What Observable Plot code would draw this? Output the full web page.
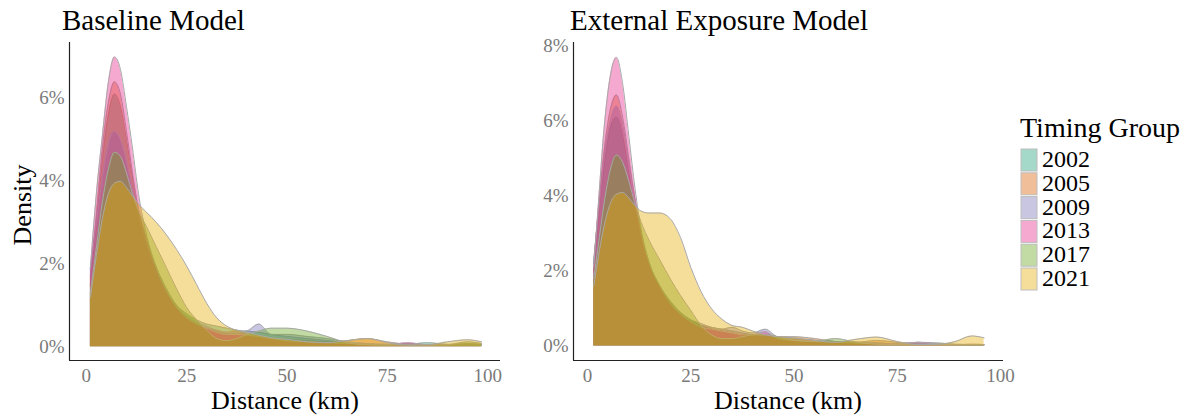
<!DOCTYPE html>
<html><head><meta charset="utf-8">
<script src="https://cdn.jsdelivr.net/npm/d3@7"></script>
<script src="https://cdn.jsdelivr.net/npm/@observablehq/plot@0.6"></script>
<style>
body{margin:0;background:#fff;font-family:"Liberation Serif",serif;}
#wrap{position:relative;width:1199px;height:418px;overflow:hidden;background:#fff}
#overlay{position:absolute;left:0;top:0;pointer-events:none}
</style></head><body><div id="wrap"></div>
<script>
const groups = ["2002","2005","2009","2013","2017","2021"];
const colors = ["#1B9E77","#D95F02","#7570B3","#E7298A","#66A61E","#E6AB02"];
const xTicks = [0,25,50,75,100];
const baselineYTicks = [0,2,4,6];
const externalYTicks = [0,2,4,6,8];

// Baseline Model: distance (km) grid and density (%) per timing group
const baselineX    = [1, 2.5, 4, 5.5, 7, 8.5, 10, 11.5, 13, 15, 17.5, 20, 22.5, 25, 27.5, 30, 32.5, 35, 37.5, 40, 43, 46, 50, 55, 60, 65, 70, 75, 80, 85, 90, 95, 98.5];
const baseline2002 = [1.5, 3.0, 4.5, 5.6, 6.1, 5.8, 5.0, 4.1, 3.3, 2.6, 1.9, 1.35, 1.0, 0.8, 0.65, 0.55, 0.5, 0.45, 0.4, 0.38, 0.35, 0.3, 0.25, 0.2, 0.15, 0.1, 0.06, 0.05, 0.06, 0.1, 0.06, 0.05, 0.04];
const baseline2005 = [1.7, 3.2, 4.8, 5.9, 6.4, 6.1, 5.2, 4.2, 3.3, 2.5, 1.8, 1.3, 0.95, 0.7, 0.55, 0.45, 0.4, 0.35, 0.4, 0.3, 0.25, 0.2, 0.18, 0.15, 0.12, 0.15, 0.2, 0.12, 0.06, 0.04, 0.05, 0.08, 0.06];
const baseline2009 = [1.9, 3.0, 4.1, 4.9, 5.2, 5.0, 4.5, 3.8, 3.2, 2.5, 1.9, 1.4, 1.0, 0.75, 0.6, 0.5, 0.4, 0.35, 0.35, 0.38, 0.55, 0.3, 0.3, 0.25, 0.2, 0.12, 0.08, 0.06, 0.08, 0.05, 0.05, 0.06, 0.05];
const baseline2013 = [1.9, 3.7, 5.1, 6.4, 7.0, 6.7, 5.8, 4.8, 3.7, 2.7, 1.9, 1.35, 0.95, 0.7, 0.55, 0.45, 0.35, 0.3, 0.3, 0.28, 0.25, 0.2, 0.15, 0.12, 0.1, 0.08, 0.06, 0.05, 0.1, 0.05, 0.04, 0.04, 0.03];
const baseline2017 = [1.3, 2.4, 3.5, 4.3, 4.7, 4.6, 4.2, 3.7, 3.3, 2.9, 2.4, 1.9, 1.4, 0.95, 0.65, 0.4, 0.2, 0.15, 0.2, 0.3, 0.38, 0.45, 0.45, 0.38, 0.25, 0.1, 0.05, 0.04, 0.05, 0.04, 0.05, 0.12, 0.08];
const baseline2021 = [1.2, 2.2, 3.1, 3.7, 3.95, 4.0, 3.85, 3.65, 3.45, 3.25, 3.0, 2.7, 2.35, 1.95, 1.5, 1.05, 0.7, 0.5, 0.4, 0.35, 0.28, 0.22, 0.18, 0.12, 0.1, 0.15, 0.2, 0.1, 0.04, 0.05, 0.12, 0.17, 0.12];

// External Exposure Model
const externalX    = [1.5, 2.5, 4, 5.5, 7, 8.5, 10, 11.5, 13, 15, 17.5, 20, 22.5, 25, 27.5, 30, 32.5, 35, 37.5, 40, 43, 46, 50, 55, 60, 65, 70, 75, 80, 85, 89, 93, 96];
const external2002 = [2.0, 3.2, 4.8, 5.8, 6.1, 5.6, 4.6, 3.6, 2.8, 2.1, 1.6, 1.2, 0.9, 0.7, 0.55, 0.45, 0.4, 0.35, 0.3, 0.3, 0.3, 0.25, 0.2, 0.15, 0.12, 0.1, 0.08, 0.06, 0.1, 0.08, 0.05, 0.04, 0.04];
const external2005 = [2.2, 3.5, 5.2, 6.3, 6.7, 6.1, 5.0, 3.9, 3.0, 2.2, 1.6, 1.15, 0.85, 0.65, 0.55, 0.5, 0.45, 0.4, 0.35, 0.3, 0.25, 0.25, 0.25, 0.2, 0.12, 0.1, 0.15, 0.1, 0.05, 0.04, 0.04, 0.05, 0.04];
const external2009 = [2.3, 3.4, 5.0, 6.0, 6.4, 5.9, 4.9, 3.9, 3.0, 2.2, 1.6, 1.2, 0.9, 0.7, 0.6, 0.5, 0.45, 0.5, 0.4, 0.35, 0.45, 0.25, 0.2, 0.15, 0.12, 0.1, 0.08, 0.06, 0.05, 0.05, 0.04, 0.04, 0.04];
const external2013 = [2.1, 3.6, 5.8, 7.2, 7.7, 7.0, 5.6, 4.2, 3.1, 2.2, 1.6, 1.15, 0.85, 0.65, 0.5, 0.45, 0.4, 0.35, 0.3, 0.3, 0.38, 0.2, 0.15, 0.12, 0.1, 0.08, 0.06, 0.06, 0.1, 0.05, 0.04, 0.03, 0.03];
const external2017 = [1.8, 2.6, 3.8, 4.7, 5.1, 4.9, 4.4, 3.8, 3.3, 2.8, 2.3, 1.8, 1.35, 0.95, 0.55, 0.3, 0.2, 0.2, 0.25, 0.3, 0.3, 0.25, 0.15, 0.12, 0.2, 0.1, 0.05, 0.04, 0.05, 0.04, 0.04, 0.04, 0.04];
const external2021 = [1.6, 2.3, 3.2, 3.8, 4.05, 4.1, 3.95, 3.75, 3.6, 3.55, 3.55, 3.4, 2.9, 2.1, 1.45, 1.0, 0.72, 0.55, 0.5, 0.4, 0.3, 0.25, 0.22, 0.15, 0.1, 0.18, 0.24, 0.12, 0.04, 0.05, 0.12, 0.27, 0.22];

function toRows(xs, series) {
  const rows = [];
  groups.forEach((g, i) => xs.forEach((x, j) => rows.push({group: g, x, y: series[i][j]})));
  return rows;
}
const baselineRows = toRows(baselineX, [baseline2002, baseline2005, baseline2009, baseline2013, baseline2017, baseline2021]);
const externalRows = toRows(externalX, [external2002, external2005, external2009, external2013, external2017, external2021]);

const FONT = "Liberation Serif";
const tickColor = "#7a7a7a";
const ALPHA = 0.4;

function makePlot(rows, {left, width, marginLeft, marginRight, xDomain, yDomain, yTicks}) {
  const marks = [];
  groups.forEach(g => {
    marks.push(Plot.areaY(rows, {filter: d => d.group === g, x: "x", y: "y", fill: "group", fillOpacity: ALPHA, curve: "monotone-x"}));
    marks.push(Plot.lineY(rows, {filter: d => d.group === g, x: "x", y: "y", stroke: "#a8a8a8", strokeWidth: 1, curve: "monotone-x"}));
  });
  marks.push(Plot.ruleX([xDomain[0]], {stroke: "#222", strokeWidth: 1.2}));
  marks.push(Plot.ruleY([yDomain[0]], {stroke: "#222", strokeWidth: 1.2}));
  marks.push(Plot.axisX({ticks: xTicks, tickSize: 0, tickPadding: 8, label: null, fill: tickColor, fontSize: 19}));
  marks.push(Plot.axisY({ticks: yTicks, tickSize: 0, tickPadding: 5, label: null, tickFormat: d => `${d}%`, fill: tickColor, fontSize: 19}));
  const svg = Plot.plot({
    width, height: 418,
    marginLeft, marginRight, marginTop: 42, marginBottom: 58,
    style: {fontFamily: FONT, background: "transparent", overflow: "visible"},
    x: {domain: xDomain},
    y: {domain: yDomain},
    color: {domain: groups, range: colors},
    marks
  });
  svg.style.position = "absolute";
  svg.style.top = "0px";
  svg.style.left = left + "px";
  svg.style.maxWidth = "none";
  document.getElementById("wrap").appendChild(svg);
}

makePlot(baselineRows, {left: 0, width: 505, marginLeft: 69, marginRight: 5, xDomain: [-4.2, 103.2], yDomain: [-0.33, 7.35], yTicks: baselineYTicks});
makePlot(externalRows, {left: 505, width: 505, marginLeft: 68, marginRight: 7, xDomain: [-3.4, 100.7], yDomain: [-0.385, 8.1], yTicks: externalYTicks});

// Titles, axis titles and legend
const ov = d3.select("#wrap").append("svg").attr("id", "overlay").attr("width", 1199).attr("height", 418)
  .style("font-family", FONT);
ov.append("text").attr("x", 62).attr("y", 30).attr("font-size", 29).text("Baseline Model");
ov.append("text").attr("x", 570).attr("y", 30).attr("font-size", 29).text("External Exposure Model");
ov.append("text").attr("x", 285).attr("y", 409).attr("text-anchor", "middle").attr("font-size", 26).text("Distance (km)");
ov.append("text").attr("x", 788).attr("y", 409).attr("text-anchor", "middle").attr("font-size", 26).text("Distance (km)");
ov.append("text").attr("transform", "translate(31,205) rotate(-90)").attr("text-anchor", "middle").attr("font-size", 26).text("Density");

const leg = ov.append("g");
leg.append("text").attr("x", 1020).attr("y", 137).attr("font-size", 28).text("Timing Group");
const items = leg.selectAll("g.item").data(groups).join("g").attr("class", "item")
  .attr("transform", (d, i) => `translate(1021, ${149 + i * 23.8})`);
items.append("rect").attr("width", 16).attr("height", 22)
  .attr("fill", (d, i) => colors[i]).attr("fill-opacity", ALPHA).attr("stroke", "#bdbdbd").attr("stroke-width", 1);
items.append("text").attr("x", 21).attr("y", 18).attr("font-size", 24).text(d => d);
</script>
</body></html>
